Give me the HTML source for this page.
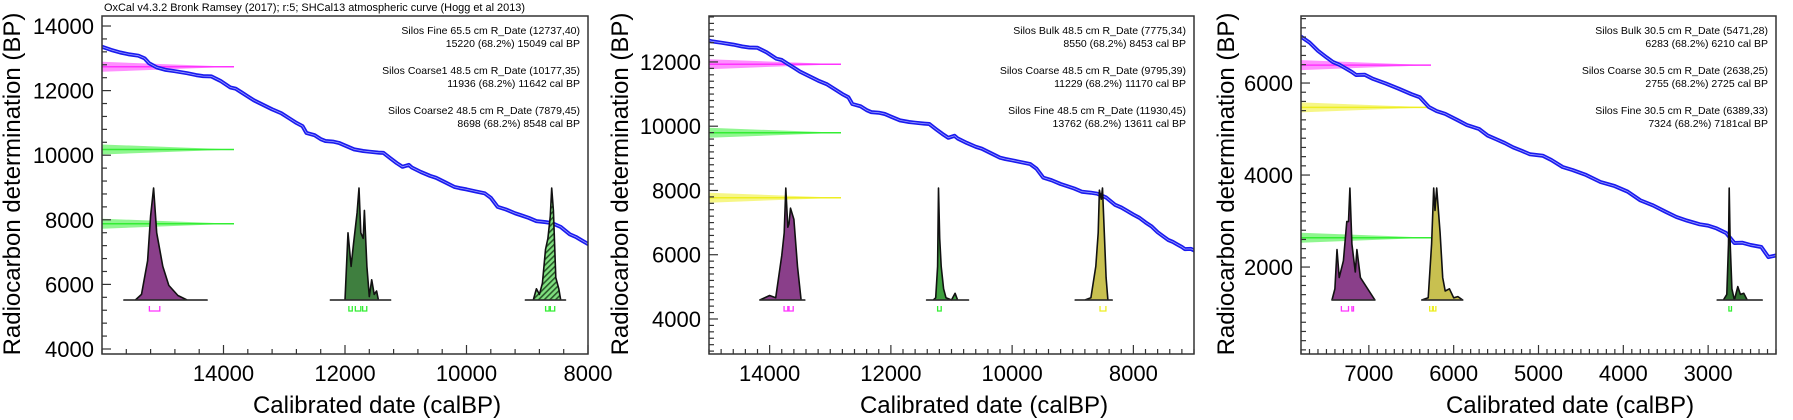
<!DOCTYPE html>
<html><head><meta charset="utf-8"><style>
body{margin:0;background:#fff}
svg{display:block}
text{font-family:"Liberation Sans",Arial,sans-serif;fill:#000}
</style></head><body>
<svg id="chart" width="1793" height="420" viewBox="0 0 1793 420" xmlns="http://www.w3.org/2000/svg">
<defs>
<pattern id="hatch" patternUnits="userSpaceOnUse" width="4" height="4" patternTransform="rotate(45)">
<rect width="4" height="4" fill="#7fe07f"/><rect width="1.6" height="4" fill="#2a5a2a"/>
</pattern>
</defs>
<text x="104" y="11" font-size="11" textLength="421" lengthAdjust="spacingAndGlyphs">OxCal v4.3.2 Bronk Ramsey (2017); r:5; SHCal13 atmospheric curve (Hogg et al 2013)</text>
</svg>
<script>
// Calibration curve (SHCal13) cal BP -> radiocarbon BP
const curveCal = [16000,15850,15700,15550,15400,15300,15225,15100,14950,14800,14600,14450,14335,14200,14050,13890,13800,13700,13600,13500,13350,13200,13050,12900,12800,12700,12636,12500,12400,12323,12200,12100,12000,11850,11700,11600,11450,11367,11250,11150,11053,10950,10900,10750,10600,10500,10350,10200,10113,10000,9850,9700,9600,9487,9350,9200,9100,8976,8850,8700,8597,8450,8300,8200,8100,8000,7900,7800,7700,7600,7500,7424,7350,7285,7200,7150,7050,6950,6800,6650,6500,6400,6292,6200,6100,5950,5845,5700,5600,5500,5398,5300,5200,5100,4950,4850,4716,4600,4450,4269,4100,3950,3800,3650,3500,3374,3250,3100,3000,2900,2787,2690,2600,2500,2373,2290,2200];
const curveBP = [13360,13260,13180,13120,13080,13000,12850,12720,12640,12600,12540,12480,12450,12440,12300,12100,12060,11940,11820,11700,11560,11420,11300,11120,11000,10900,10690,10620,10500,10440,10420,10380,10300,10180,10130,10110,10080,10070,9900,9760,9640,9700,9620,9480,9360,9300,9160,9020,8980,8940,8880,8820,8680,8400,8320,8200,8140,8060,7960,7930,7900,7780,7550,7470,7360,7250,7150,7006,6880,6700,6560,6457,6400,6330,6240,6174,6180,6090,5990,5880,5760,5690,5478,5390,5330,5190,5087,5000,4860,4780,4696,4600,4530,4450,4420,4330,4174,4110,4010,3848,3760,3640,3450,3340,3200,3087,3010,2930,2900,2840,2739,2522,2530,2480,2435,2217,2250];

// Panel 1 samples
const p1Labels = ["Silos Fine 65.5 cm R_Date (12737,40)","15220 (68.2%) 15049 cal BP","Silos Coarse1 48.5 cm R_Date (10177,35)","11936 (68.2%) 11642 cal BP","Silos Coarse2 48.5 cm R_Date (7879,45)","8698 (68.2%) 8548 cal BP"];
const p1Dates = [12737,10177,7879];
const p1Colors = ["#ff33ff","#33ee33","#33ee33"];
const p1Fills = ["#8a3f8a","#3f7f3f","url(#hatch)"];
const p1DistCal = [
 [15640,15450,15350,15250,15200,15150,15100,15000,14900,14750,14600,14270],
 [12240,12000,11950,11900,11860,11800,11770,11740,11700,11680,11640,11600,11560,11520,11480,11450,11250],
 [9030,8900,8850,8800,8750,8700,8660,8620,8597,8570,8530,8480,8450,8370]];
const p1DistP = [
 [0,0,0.05,0.35,0.75,1,0.6,0.3,0.13,0.04,0,0],
 [0,0,0.6,0.3,0.5,0.78,1,0.6,0.55,0.8,0.3,0.03,0.18,0.05,0.08,0,0],
 [0,0,0.1,0.05,0.15,0.45,0.55,0.75,1,0.8,0.2,0.1,0,0]];
const p1Ranges = [[[15220,15049]],[[11936,11880],[11830,11740],[11710,11642]],[[8698,8640],[8620,8548]]];

// Panel 2 samples
const p2Labels = ["Silos Bulk 48.5 cm R_Date (7775,34)","8550 (68.2%) 8453 cal BP","Silos Coarse 48.5 cm R_Date (9795,39)","11229 (68.2%) 11170 cal BP","Silos Fine 48.5 cm R_Date (11930,45)","13762 (68.2%) 13611 cal BP"];
const p2Dates = [11930,9795,7775];
const p2Colors = ["#ff33ff","#33ee33","#eeee22"];
const p2Fills = ["#8a3f8a","#3f9f3f","#c8c050"];
const p2DistCal = [
 [14160,14000,13900,13800,13760,13733,13700,13680,13655,13600,13540,13480,13420],
 [11411,11300,11260,11230,11214,11195,11170,11130,11090,11000,10940,10900,10720],
 [8960,8800,8700,8620,8580,8560,8530,8510,8480,8450,8420,8350]];
const p2DistP = [
 [0,0.04,0.02,0.4,0.6,1,0.65,0.68,0.82,0.72,0.3,0,0],
 [0,0,0.02,0.3,1,0.55,0.3,0.1,0.02,0,0.06,0,0],
 [0,0,0.02,0.3,0.6,0.98,0.9,1,0.6,0.2,0,0]];
const p2Ranges = [[[13762,13700],[13680,13611]],[[11229,11170]],[[8550,8453]]];

// Panel 3 samples
const p3Labels = ["Silos Bulk 30.5 cm R_Date (5471,28)","6283 (68.2%) 6210 cal BP","Silos Coarse 30.5 cm R_Date (2638,25)","2755 (68.2%) 2725 cal BP","Silos Fine 30.5 cm R_Date (6389,33)","7324 (68.2%) 7181cal BP"];
const p3Dates = [6389,5471,2638];
const p3Colors = ["#ff33ff","#eeee22","#33ee33"];
const p3Fills = ["#8a3f8a","#c8c050","#2f6f2f"];
const p3DistCal = [
 [7435,7400,7376,7350,7300,7260,7240,7224,7200,7160,7141,7100,6929],
 [6376,6300,6260,6235,6220,6200,6160,6130,6100,6050,6000,5950,5894],
 [2893,2820,2780,2760,2752,2740,2720,2690,2650,2620,2580,2540,2363]];
const p3DistP = [
 [0,0.1,0.45,0.2,0.35,0.7,0.7,1,0.5,0.25,0.45,0.2,0],
 [0,0.02,0.5,1,0.8,1,0.6,0.2,0.08,0.1,0.02,0.03,0],
 [0,0,0.05,0.5,1,0.5,0.1,0,0.12,0.05,0.06,0,0]];
const p3Ranges = [[[7324,7240],[7200,7181]],[[6283,6250],[6240,6210]],[[2755,2725]]];

const xTicks1=[14000,12000,10000,8000], yTicks1=[14000,12000,10000,8000,6000,4000];
const xTicks2=[14000,12000,10000,8000], yTicks2=[12000,10000,8000,6000,4000];
const xTicks3=[7000,6000,5000,4000,3000], yTicks3=[6000,4000,2000];

const NS="http://www.w3.org/2000/svg";
const svg=document.getElementById('chart');
function mk(tag,attrs,parent){const e=document.createElementNS(NS,tag);for(const k in attrs)e.setAttribute(k,attrs[k]);(parent||svg).appendChild(e);return e;}

const panels=[
 {L:102,R:588,T:16,B:354,x0:16000,x1:8000,y0:3845,y1:14310,xt:xTicks1,yt:yTicks1,xm:400,ym:400,ylx:20,xtx:377,wedgeEnd:234,
  labels:p1Labels,dates:p1Dates,colors:p1Colors,fills:p1Fills,dc:p1DistCal,dp:p1DistP,rg:p1Ranges},
 {L:709,R:1194,T:16,B:354,x0:15000,x1:7000,y0:2910,y1:13430,xt:xTicks2,yt:yTicks2,xm:200,ym:200,ylx:628,xtx:984,wedgeEnd:841,
  labels:p2Labels,dates:p2Dates,colors:p2Colors,fills:p2Fills,dc:p2DistCal,dp:p2DistP,rg:p2Ranges},
 {L:1301,R:1776,T:16,B:354,x0:7800,x1:2200,y0:110,y1:7457,xt:xTicks3,yt:yTicks3,xm:100,ym:200,ylx:1234,xtx:1570,wedgeEnd:1431,
  labels:p3Labels,dates:p3Dates,colors:p3Colors,fills:p3Fills,dc:p3DistCal,dp:p3DistP,rg:p3Ranges}
];

panels.forEach((p,pi)=>{
  const g=mk('g',{});
  
  
  const X=v=>p.L+(p.x0-v)/(p.x0-p.x1)*(p.R-p.L);
  const Y=v=>p.B-(v-p.y0)/(p.y1-p.y0)*(p.B-p.T);
  const clipId='clip'+pi;
  const cp=mk('clipPath',{id:clipId},g);mk('rect',{x:p.L,y:p.T,width:p.R-p.L,height:p.B-p.T},cp);
  const inner=mk('g',{'clip-path':'url(#'+clipId+')'},g);

  // sample wedges
  p.dates.forEach((d,i)=>{
    const y=Y(d);
    const w=mk('polygon',{points:`${p.L},${y-5} ${p.wedgeEnd},${y} ${p.L},${y+5}`,fill:p.colors[i],'fill-opacity':0.55},inner);
    
    
    const l=mk('line',{x1:p.L,y1:y,x2:p.wedgeEnd,y2:y,stroke:p.colors[i],'stroke-width':1.5},inner);
    
    
  });

  // calibration curve
  let d='';
  curveCal.forEach((c,k)=>{d+=(k?'L':'M')+X(c).toFixed(1)+','+Y(curveBP[k]).toFixed(1);});
  const cv=mk('path',{d:d,fill:'none',stroke:'#1a1aee','stroke-width':4,'stroke-linejoin':'round'},inner);
  
  
  const cv2=mk('path',{d:d,fill:'none',stroke:'#9aa0ff','stroke-width':0.8},inner);
  
  

  // distributions
  const base=300,h=112;
  p.dc.forEach((cals,i)=>{
    let pts=cals.map((c,k)=>X(c).toFixed(1)+','+(base-p.dp[i][k]*h).toFixed(1));
    const area=mk('polygon',{points:pts.join(' '),fill:p.fills[i],stroke:'#111','stroke-width':1.6,'stroke-linejoin':'round'},inner);
    
    
    const bl=mk('line',{x1:X(cals[0]),y1:base,x2:X(cals[cals.length-1]),y2:base,stroke:'#333','stroke-width':1.2},inner);
    
    
    p.rg[i].forEach(r=>{
      const a=X(r[0]),b=X(r[1]);
      const br=mk('path',{d:`M${a},306 L${a},311 L${b},311 L${b},306`,fill:'none',stroke:p.colors[i],'stroke-width':1.3},inner);
      
      
    });
  });

  // frame
  const fr=mk('rect',{x:p.L,y:p.T,width:p.R-p.L,height:p.B-p.T,fill:'none',stroke:'#333','stroke-width':1.5},g);
  
  

  // minor/major ticks
  for(let v=Math.ceil(p.x1/p.xm)*p.xm; v<=p.x0; v+=p.xm){
    const x=X(v), major=p.xt.includes(v);
    mk('line',{x1:x,y1:p.B,x2:x,y2:p.B-(major?9:5),stroke:'#333','stroke-width':1.2},g);
  }
  for(let v=Math.ceil(p.y0/p.ym)*p.ym; v<=p.y1; v+=p.ym){
    const y=Y(v), major=p.yt.includes(v);
    mk('line',{x1:p.L,y1:y,x2:p.L+(major?9:5),y2:y,stroke:'#333','stroke-width':1.2},g);
  }
  p.xt.forEach(v=>{
    const t=mk('text',{x:X(v),y:381,'font-size':22,'text-anchor':'middle'},g);t.textContent=v;
    
    
  });
  p.yt.forEach(v=>{
    const t=mk('text',{x:p.L-8,y:Y(v)+8,'font-size':22,'text-anchor':'end'},g);t.textContent=v;
    
    
  });
  const xt=mk('text',{x:p.xtx,y:413,'font-size':24,'text-anchor':'middle'},g);xt.textContent='Calibrated date (calBP)';
  
  
  const yt=mk('text',{x:0,y:0,'font-size':24,'text-anchor':'middle',transform:`translate(${p.ylx},184) rotate(-90)`},g);yt.textContent='Radiocarbon determination (BP)';
  
  

  // annotations
  const ys=[30,43,70,83,110,123];
  p.labels.forEach((s,k)=>{
    const t=mk('text',{x:p.R-8,y:ys[k]+4,'font-size':10.5,'text-anchor':'end'},g);t.textContent=s;
    
    
  });
});
</script>
</body></html>
